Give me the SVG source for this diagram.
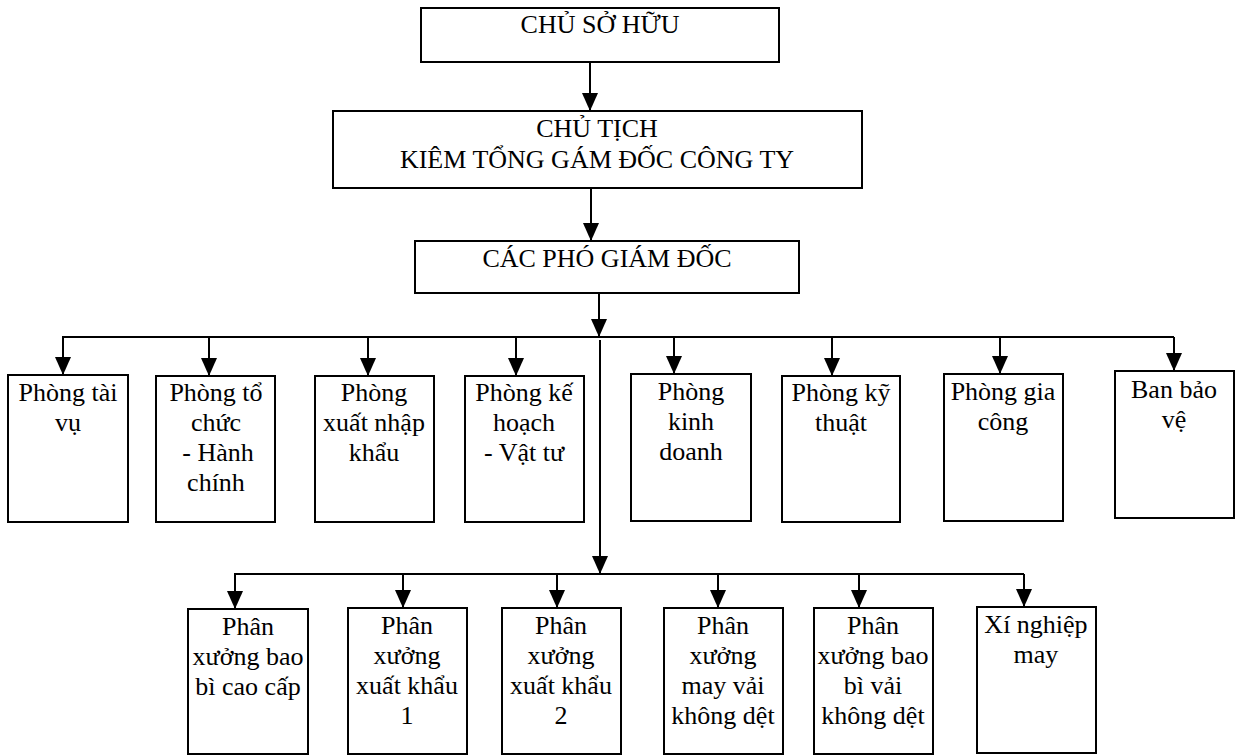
<svg xmlns="http://www.w3.org/2000/svg" width="1238" height="755" viewBox="0 0 1238 755">
<style>
.box{fill:#fff;stroke:#000;stroke-width:2}
text{font-family:'Times New Roman','Liberation Serif','DejaVu Serif',serif;font-size:26px;fill:#000;text-anchor:middle}
.c{fill:none;stroke:#000;stroke-width:2}
.a{fill:none;stroke:#000;stroke-width:2;marker-end:url(#ah)}
</style>
<defs>
<marker id="ah" markerUnits="userSpaceOnUse" markerWidth="18" markerHeight="16" viewBox="0 0 18 16" refX="18" refY="8" orient="auto">
<path d="M0,0 L18,8 L0,16 Z" fill="#000"/>
</marker>
</defs>
<rect width="1238" height="755" fill="#fff"/>
<g id="connectors">
<line class="a" x1="590" y1="62" x2="590" y2="111"/>
<line class="a" x1="591" y1="188" x2="591" y2="241"/>
<line class="a" x1="599" y1="293" x2="599" y2="337"/>
<polyline class="c" points="62,337 1174,337"/>
<line class="a" x1="63" y1="337" x2="63" y2="375"/>
<line class="a" x1="209" y1="338" x2="209" y2="376"/>
<line class="a" x1="368" y1="338" x2="368" y2="376"/>
<line class="a" x1="516" y1="338" x2="516" y2="376"/>
<line class="a" x1="674" y1="338" x2="674" y2="374"/>
<line class="a" x1="832" y1="338" x2="832" y2="376"/>
<line class="a" x1="1000" y1="338" x2="1000" y2="374"/>
<line class="a" x1="1174" y1="337" x2="1174" y2="371"/>
<line class="a" x1="600" y1="340" x2="600" y2="574"/>
<polyline class="c" points="234,574 1024,574"/>
<line class="a" x1="235" y1="574" x2="235" y2="609"/>
<line class="a" x1="403" y1="575" x2="403" y2="608"/>
<line class="a" x1="557" y1="575" x2="557" y2="608"/>
<line class="a" x1="718" y1="575" x2="718" y2="608"/>
<line class="a" x1="859" y1="575" x2="859" y2="608"/>
<line class="a" x1="1024" y1="574" x2="1024" y2="607"/>
</g>
<g id="chu-so-huu"><rect class="box" x="421" y="8" width="358" height="54"/><text x="600" y="33">CHỦ SỞ HỮU</text></g>
<g id="chu-tich"><rect class="box" x="333" y="111" width="529" height="77"/><text x="597" y="137">CHỦ TỊCH</text><text x="597" y="168">KIÊM TỔNG GÁM ĐỐC CÔNG TY</text></g>
<g id="pho-giam-doc"><rect class="box" x="415" y="241" width="384" height="52"/><text x="607" y="267">CÁC PHÓ GIÁM ĐỐC</text></g>

<g id="phong-tai-vu"><rect class="box" x="8" y="375" width="120" height="147"/><text x="68" y="401">Phòng tài</text><text x="68" y="431">vụ</text></g>
<g id="phong-to-chuc"><rect class="box" x="156" y="376" width="119" height="146"/><text x="216" y="401">Phòng tổ</text><text x="216" y="431">chức</text><text x="218" y="461">- Hành</text><text x="216" y="491">chính</text></g>
<g id="phong-xnk"><rect class="box" x="315" y="376" width="119" height="146"/><text x="374" y="401">Phòng</text><text x="374" y="431">xuất nhập</text><text x="374" y="461">khẩu</text></g>
<g id="phong-ke-hoach"><rect class="box" x="465" y="376" width="119" height="146"/><text x="524" y="401">Phòng kế</text><text x="524" y="431">hoạch</text><text x="524" y="461">- Vật tư</text></g>
<g id="phong-kinh-doanh"><rect class="box" x="631" y="374" width="120" height="147"/><text x="691" y="400">Phòng</text><text x="691" y="430">kinh</text><text x="691" y="460">doanh</text></g>
<g id="phong-ky-thuat"><rect class="box" x="782" y="376" width="118" height="146"/><text x="841" y="401">Phòng kỹ</text><text x="841" y="431">thuật</text></g>
<g id="phong-gia-cong"><rect class="box" x="944" y="374" width="119" height="147"/><text x="1003" y="400">Phòng gia</text><text x="1003" y="430">công</text></g>
<g id="ban-bao-ve"><rect class="box" x="1115" y="371" width="119" height="147"/><text x="1174" y="398">Ban bảo</text><text x="1174" y="428">vệ</text></g>

<g id="px-bao-bi-cao-cap"><rect class="box" x="188" y="609" width="120" height="145"/><text x="248" y="635">Phân</text><text x="248" y="665">xưởng bao</text><text x="248" y="695">bì cao cấp</text></g>
<g id="px-xuat-khau-1"><rect class="box" x="348" y="608" width="119" height="146"/><text x="407" y="634">Phân</text><text x="407" y="664">xưởng</text><text x="407" y="694">xuất khẩu</text><text x="407" y="724">1</text></g>
<g id="px-xuat-khau-2"><rect class="box" x="502" y="608" width="119" height="146"/><text x="561" y="634">Phân</text><text x="561" y="664">xưởng</text><text x="561" y="694">xuất khẩu</text><text x="561" y="724">2</text></g>
<g id="px-may-vai"><rect class="box" x="664" y="608" width="119" height="146"/><text x="723" y="634">Phân</text><text x="723" y="664">xưởng</text><text x="723" y="694">may vải</text><text x="723" y="724">không dệt</text></g>
<g id="px-bao-bi-vai"><rect class="box" x="814" y="608" width="119" height="146"/><text x="873" y="634">Phân</text><text x="873" y="664">xưởng bao</text><text x="873" y="694">bì vải</text><text x="873" y="724">không dệt</text></g>
<g id="xi-nghiep-may"><rect class="box" x="977" y="607" width="119" height="146"/><text x="1036" y="633">Xí nghiệp</text><text x="1036" y="663">may</text></g>
</svg>
